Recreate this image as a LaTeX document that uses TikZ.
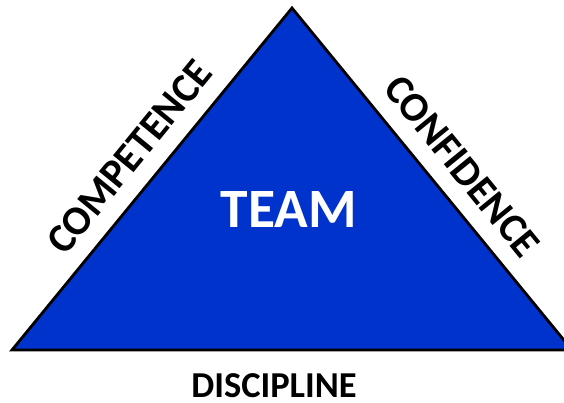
\documentclass[tikz,border=0pt]{standalone}
\usepackage{fontspec}
\setmainfont{Carlito}
\definecolor{teamblue}{RGB}{0,51,204}
\tikzset{
  edgelabel/.style={inner sep=0pt, font=\fontsize{41}{41}\selectfont\bfseries, text=black},
  basetext/.style={inner sep=0pt, font=\fontsize{36.5}{36.5}\selectfont\bfseries, text=black},
  titletext/.style={inner sep=0pt, font=\fontsize{55.5}{55.5}\selectfont\bfseries, text=white},
  tri/.style={line width=2.8pt, draw=black, fill=teamblue, line join=miter}
}
\begin{document}
\begin{tikzpicture}[x=1pt,y=-1pt]
\useasboundingbox (0,0) rectangle (564,402);
\fill[white] (0,0) rectangle (564,402);
\begin{scope}
\clip (0,0) rectangle (564,402);
\coordinate (L) at (12,350);
\coordinate (A) at (292,8);
\coordinate (R) at (572,350);
\draw[tri] (L) -- (A) -- (R) -- cycle;
\end{scope}
\node[titletext] (team) at (289,210) {TEAM};
\node[edgelabel, rotate=50.7] (comp) at (129.5,157) {COMPETENCE};
\node[edgelabel, rotate=-50.8] (conf) at (462,166) {CONFIDENCE};
\node[basetext] (disc) at (274,385.5) {DISCIPLINE};
\end{tikzpicture}
\end{document}
